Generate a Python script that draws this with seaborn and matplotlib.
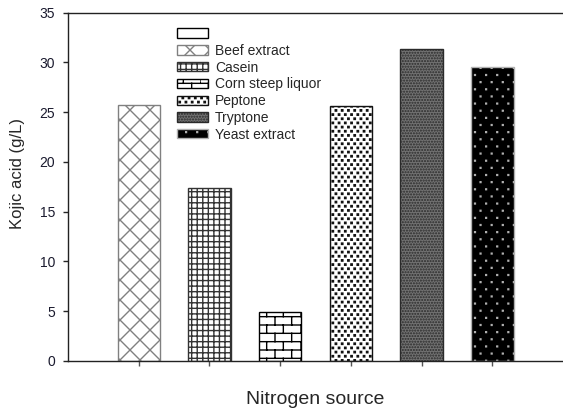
import warnings
import numpy as np
import pandas as pd
import matplotlib
matplotlib.use("Agg")
import matplotlib.pyplot as plt
import matplotlib.hatch as mhatch
from matplotlib.patches import Rectangle
from matplotlib.path import Path
import seaborn as sns

warnings.filterwarnings("ignore")

# Nitrogen sources and kojic acid yield (g/L)
sources = ["Beef extract", "Casein", "Corn steep liquor", "Peptone", "Tryptone", "Yeast extract"]
kojic_acid = [25.7, 17.4, 4.9, 25.6, 31.3, 29.5]
y_ticks = [0, 5, 10, 15, 20, 25, 30, 35]

CELL = 72.0  # hatch cell size in pixels


class BrickHatch(mhatch.HatchPatternBase):
    """Brick-wall hatch, selected with the character 'b'."""

    def __init__(self, hatch, density):
        n = hatch.count("b")
        self.rows = 12 * n
        self.cols = 6 * n
        self.num_vertices = (2 * self.rows + 2 * self.rows * self.cols) if n else 0

    def set_vertices_and_codes(self, vertices, codes):
        i = 0
        h = 1.0 / self.rows
        w = 1.0 / self.cols
        for r in range(self.rows):
            y0 = r * h
            vertices[i] = (0.0, y0)
            vertices[i + 1] = (1.0, y0)
            codes[i] = Path.MOVETO
            codes[i + 1] = Path.LINETO
            i += 2
            off = 0.5 * w if r % 2 else 0.0
            for c in range(self.cols):
                x = (c * w + off) % 1.0
                vertices[i] = (x, y0)
                vertices[i + 1] = (x, y0 + h)
                codes[i] = Path.MOVETO
                codes[i + 1] = Path.LINETO
                i += 2


class DiamondHatch(mhatch.HatchPatternBase):
    """Diagonal cross-hatch, five diamonds per cell, selected with 'k'."""

    def __init__(self, hatch, density):
        n = hatch.count("k")
        self.num_lines = 10 * n
        self.num_vertices = 2 * 2 * (self.num_lines + 1) if n else 0

    def set_vertices_and_codes(self, vertices, codes):
        steps = np.linspace(-0.5, 0.5, self.num_lines + 1)
        ne = np.empty((self.num_lines + 1, 2, 2))
        ne[:, 0, 0] = 0.0 + steps
        ne[:, 0, 1] = 0.0 - steps
        ne[:, 1, 0] = 1.0 + steps
        ne[:, 1, 1] = 1.0 - steps
        nw = ne.copy()
        nw[:, :, 1] = 1.0 - ne[:, :, 1]
        vertices[:] = np.concatenate([ne.reshape(-1, 2), nw.reshape(-1, 2)])
        codes[0::2] = Path.MOVETO
        codes[1::2] = Path.LINETO


def dot_hatch(char, cols, rows, side_px):
    """Staggered square dots: `cols` x `rows` per cell, selected with `char`."""

    class DotHatch(mhatch.HatchPatternBase):
        def __init__(self, hatch, density):
            n = hatch.count(char)
            self.cols = cols * n
            self.rows = rows * n
            self.num_vertices = 5 * self.cols * self.rows if n else 0

        def set_vertices_and_codes(self, vertices, codes):
            s = side_px / CELL / 2.0
            i = 0
            for r in range(self.rows):
                y = (r + 0.5) / self.rows
                off = 0.5 if r % 2 else 0.0
                for c in range(self.cols):
                    x = (c + off + 0.25) / self.cols
                    vertices[i:i + 5] = [(x - s, y - s), (x + s, y - s),
                                         (x + s, y + s), (x - s, y + s), (x - s, y - s)]
                    codes[i] = Path.MOVETO
                    codes[i + 1:i + 4] = Path.LINETO
                    codes[i + 4] = Path.CLOSEPOLY
                    i += 5

    return DotHatch


mhatch._hatch_types.append(BrickHatch)
mhatch._hatch_types.append(DiamondHatch)
mhatch._hatch_types.append(dot_hatch("q", 16, 24, 1.0))
mhatch._hatch_types.append(dot_hatch("y", 9, 14, 0.6))

sns.set_style("ticks")
plt.rcParams["font.family"] = ["Liberation Sans", "DejaVu Sans"]
plt.rcParams["hatch.linewidth"] = 1.0

fig = plt.figure(figsize=(5.63, 4.12), dpi=100)
ax = fig.add_axes([68 / 563, 1 - 361 / 412, 1 - 68 / 563, (361 - 12.5) / 412])

df = pd.DataFrame({"source": sources, "kojic": kojic_acid})
sns.barplot(data=df, x="source", y="kojic", order=sources, color="white",
            width=0.6, saturation=1, ax=ax, errorbar=None)

styles = [
    dict(face="white", edge="#808080", hatch="k"),
    dict(face="white", edge="#333333", hatch="+++"),
    dict(face="white", edge="black", hatch="b"),
    dict(face="white", edge="#111111", hatch="q"),
    dict(face="#727272", edge="#2a2a2a", hatch="......"),
    dict(face="black", edge="#b0b0b0", hatch="y"),
]
bars = list(ax.patches)
for bar, st in zip(bars, styles):
    bar.set_facecolor(st["face"])
    bar.set_edgecolor(st["edge"])
    bar.set_hatch(st["hatch"])
    bar.set_linewidth(1.0)

ax.set_xlim(-1, 6)
ax.set_ylim(0, 35)
ax.set_yticks(y_ticks)
ax.set_xticks(range(len(sources)))
ax.set_xticklabels([])
ax.tick_params(axis="x", direction="out", length=3.5, width=1, color="#555555")
ax.tick_params(axis="y", direction="out", length=3.6, width=1, labelsize=10, pad=5.5,
               labelcolor="#1a1a2e")

for side in ["left", "bottom", "top"]:
    ax.spines[side].set_visible(True)
    ax.spines[side].set_linewidth(1.0)
    ax.spines[side].set_color("#222222")
ax.spines["right"].set_visible(False)

ax.set_xlabel("Nitrogen source", fontsize=14, labelpad=14.4)
ax.set_ylabel("Kojic acid (g/L)", fontsize=12)
ax.yaxis.set_label_coords(-0.087, 0.537)

blank = Rectangle((0, 0), 1, 1, facecolor="white", edgecolor="black", linewidth=1.0)
handles = [blank] + bars
labels = [""] + sources
ax.legend(handles, labels, loc="upper left",
          bbox_to_anchor=(177 / 563, 1 - 27 / 412), bbox_transform=fig.transFigure,
          frameon=False, fontsize=10, handlelength=2.23, handleheight=0.65,
          handletextpad=0.5, labelspacing=0.2, borderpad=0, borderaxespad=0)

fig.savefig("out.png", dpi=100)
